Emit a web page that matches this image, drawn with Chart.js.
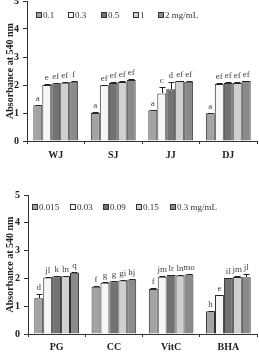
<!DOCTYPE html>
<html><head><meta charset="utf-8">
<script src="https://cdn.jsdelivr.net/npm/chart.js@4/dist/chart.umd.min.js"></script>
<style>
html,body{margin:0;padding:0;background:#fff;overflow:hidden;width:259px;height:358px;position:relative}
.w{position:absolute;left:0;width:259px}
canvas{display:block}
</style></head><body>
<div class="w" style="top:-10px;height:189px"><canvas id="c1" width="259" height="189"></canvas></div>
<div class="w" style="top:179px;height:179px"><canvas id="c2" width="259" height="179"></canvas></div>
<script>
// ---- Chart 1 data ----
const cats1 = ['WJ', 'SJ', 'JJ', 'DJ'];
const legend1 = ['0.1', '0.3', '0.5', '1', '2 mg/mL'];
const c1_s1 = [1.28, 1.00, 1.10, 0.99];
const c1_s2 = [2.00, 1.99, 1.70, 2.04];
const c1_s3 = [2.05, 2.07, 1.85, 2.07];
const c1_s4 = [2.08, 2.11, 2.14, 2.07];
const c1_s5 = [2.12, 2.18, 2.12, 2.14];
const c1_e1 = [0.02, 0.02, 0.02, 0.02];
const c1_e2 = [0.02, 0.02, 0.23, 0.02];
const c1_e3 = [0.02, 0.02, 0.26, 0.02];
const c1_e4 = [0.02, 0.02, 0.02, 0.02];
const c1_e5 = [0.02, 0.02, 0.02, 0.02];
const c1_l1 = ['a', 'a', 'a', 'a'];
const c1_l2 = ['e', 'ef', 'c', 'ef'];
const c1_l3 = ['ef', 'ef', 'd', 'ef'];
const c1_l4 = ['ef', 'ef', 'ef', 'ef'];
const c1_l5 = ['f', 'ef', 'ef', 'ef'];

// ---- Chart 2 data ----
const cats2 = ['PG', 'CC', 'VitC', 'BHA'];
const legend2 = ['0.015', '0.03', '0.09', '0.15', '0.3 mg/mL'];
const c2_s1 = [1.29, 1.70, 1.62, 0.82];
const c2_s2 = [2.03, 1.84, 2.06, 1.40];
const c2_s3 = [2.08, 1.90, 2.12, 2.01];
const c2_s4 = [2.08, 1.92, 2.10, 2.05];
const c2_s5 = [2.20, 1.96, 2.14, 2.04];
const c2_e1 = [0.15, 0.02, 0.04, 0.02];
const c2_e2 = [0.02, 0.04, 0.03, 0.02];
const c2_e3 = [0.02, 0.02, 0.02, 0.02];
const c2_e4 = [0.02, 0.02, 0.02, 0.05];
const c2_e5 = [0.03, 0.02, 0.02, 0.11];
const c2_l1 = ['d', 'f', 'f', 'h'];
const c2_l2 = ['jl', 'g', 'jm', 'e'];
const c2_l3 = ['k', 'g', 'lr', 'il'];
const c2_l4 = ['ln', 'gi', 'ln', 'jm'];
const c2_l5 = ['q', 'hj', 'mo', 'jl'];

const yTicks = [0, 1, 2, 3, 4, 5];
const yTitle = 'Absorbance at 540 nm';

const fills = ['#a3a3a3', '#f6f6f6', '#727272', '#d0d0d0', '#8a8a8a'];
const SERIF = '"Liberation Serif", "Times New Roman", serif';

const barExtras = {
  id: 'barExtras',
  afterDatasetsDraw(chart) {
    const ctx = chart.ctx, ys = chart.scales.y;
    chart.data.datasets.forEach((ds, di) => {
      const meta = chart.getDatasetMeta(di);
      meta.data.forEach((bar, i) => {
        const v = ds.data[i], e = ds.errors[i];
        const yTop = Math.round(ys.getPixelForValue(v + e)) + 0.5;
        const x = Math.round(bar.x) + 0.5;
        ctx.save();
        ctx.strokeStyle = '#222'; ctx.lineWidth = 1;
        ctx.beginPath();
        ctx.moveTo(x, Math.round(bar.y)); ctx.lineTo(x, yTop);
        ctx.moveTo(x - 3, yTop); ctx.lineTo(x + 3, yTop);
        ctx.stroke();
        ctx.font = '9px ' + SERIF;
        ctx.fillStyle = '#444'; ctx.textAlign = 'center'; ctx.textBaseline = 'bottom';
        ctx.fillText(ds.letters[i], bar.x, yTop - 2);
        ctx.restore();
      });
    });
  }
};

const boxLegend = {
  id: 'boxLegend',
  afterDraw(chart, args, opts) {
    const ctx = chart.ctx, a = chart.chartArea;
    let x = a.left + opts.dx;
    const y = a.top + opts.dy;
    ctx.save();
    ctx.font = '9px ' + SERIF;
    ctx.textBaseline = 'middle'; ctx.textAlign = 'left';
    chart.data.datasets.forEach(ds => {
      const bx = Math.round(x);
      ctx.fillStyle = ds.backgroundColor;
      ctx.fillRect(bx, Math.round(y) - 3, 6, 6);
      ctx.strokeStyle = '#333'; ctx.lineWidth = 1;
      ctx.strokeRect(bx + 0.5, Math.round(y) - 2.5, 5, 5);
      ctx.fillStyle = '#333';
      ctx.fillText(ds.label, bx + 7, y + 0.5);
      x += 7 + ctx.measureText(ds.label).width + opts.gap;
    });
    ctx.restore();
  }
};

function makeChart(id, cats, labels, series, errs, letters, cfg) {
  const datasets = series.map((s, k) => ({
    label: labels[k], data: s, errors: errs[k], letters: letters[k],
    backgroundColor: fills[k], borderColor: '#2a2a2a', borderWidth: 1,
    categoryPercentage: 0.78, barPercentage: 1.0
  }));
  return new Chart(document.getElementById(id), {
    type: 'bar',
    data: { labels: cats, datasets },
    plugins: [barExtras, boxLegend],
    options: {
      responsive: false, animation: false,
      layout: { padding: { top: cfg.padTop, right: 2, left: 0, bottom: 0 } },
      plugins: { legend: { display: false }, tooltip: { enabled: false },
        boxLegend: { dx: cfg.legDx, dy: cfg.legDy, gap: cfg.legGap } },
      scales: {
        x: {
          grid: { offset: true, drawOnChartArea: false, drawTicks: true, tickLength: 3, color: '#333' },
          border: { display: true, color: '#333', width: 1 },
          ticks: { font: { family: SERIF, size: 10, weight: 'bold' }, color: '#222', padding: cfg.xPad, maxRotation: 0 },
          afterFit: s => { s.height = cfg.xH; }
        },
        y: {
          min: yTicks[0], max: yTicks[yTicks.length - 1],
          afterBuildTicks: s => { s.ticks = yTicks.map(v => ({ value: v })); },
          grid: { drawOnChartArea: false, drawTicks: true, tickLength: 4, color: '#333' },
          border: { display: true, color: '#333', width: 1 },
          ticks: { font: { family: SERIF, size: 10, weight: 'bold' }, color: '#222', padding: 4 },
          title: { display: true, text: yTitle, font: { family: SERIF, size: 10, weight: 'bold' }, color: '#222', padding: { top: 4, bottom: 0 } },
          afterFit: s => { s.width = cfg.yW; }
        }
      }
    }
  });
}

makeChart('c1', cats1, legend1,
  [c1_s1, c1_s2, c1_s3, c1_s4, c1_s5],
  [c1_e1, c1_e2, c1_e3, c1_e4, c1_e5],
  [c1_l1, c1_l2, c1_l3, c1_l4, c1_l5],
  { padTop: 11, xH: 38, yW: 27, xPad: 5, legDx: 9, legDy: 14, legGap: 14 });

makeChart('c2', cats2, legend2,
  [c2_s1, c2_s2, c2_s3, c2_s4, c2_s5],
  [c2_e1, c2_e2, c2_e3, c2_e4, c2_e5],
  [c2_l1, c2_l2, c2_l3, c2_l4, c2_l5],
  { padTop: 16, xH: 24, yW: 28, xPad: 4, legDx: 4, legDy: 12, legGap: 10.5 });
</script>
</body></html>
